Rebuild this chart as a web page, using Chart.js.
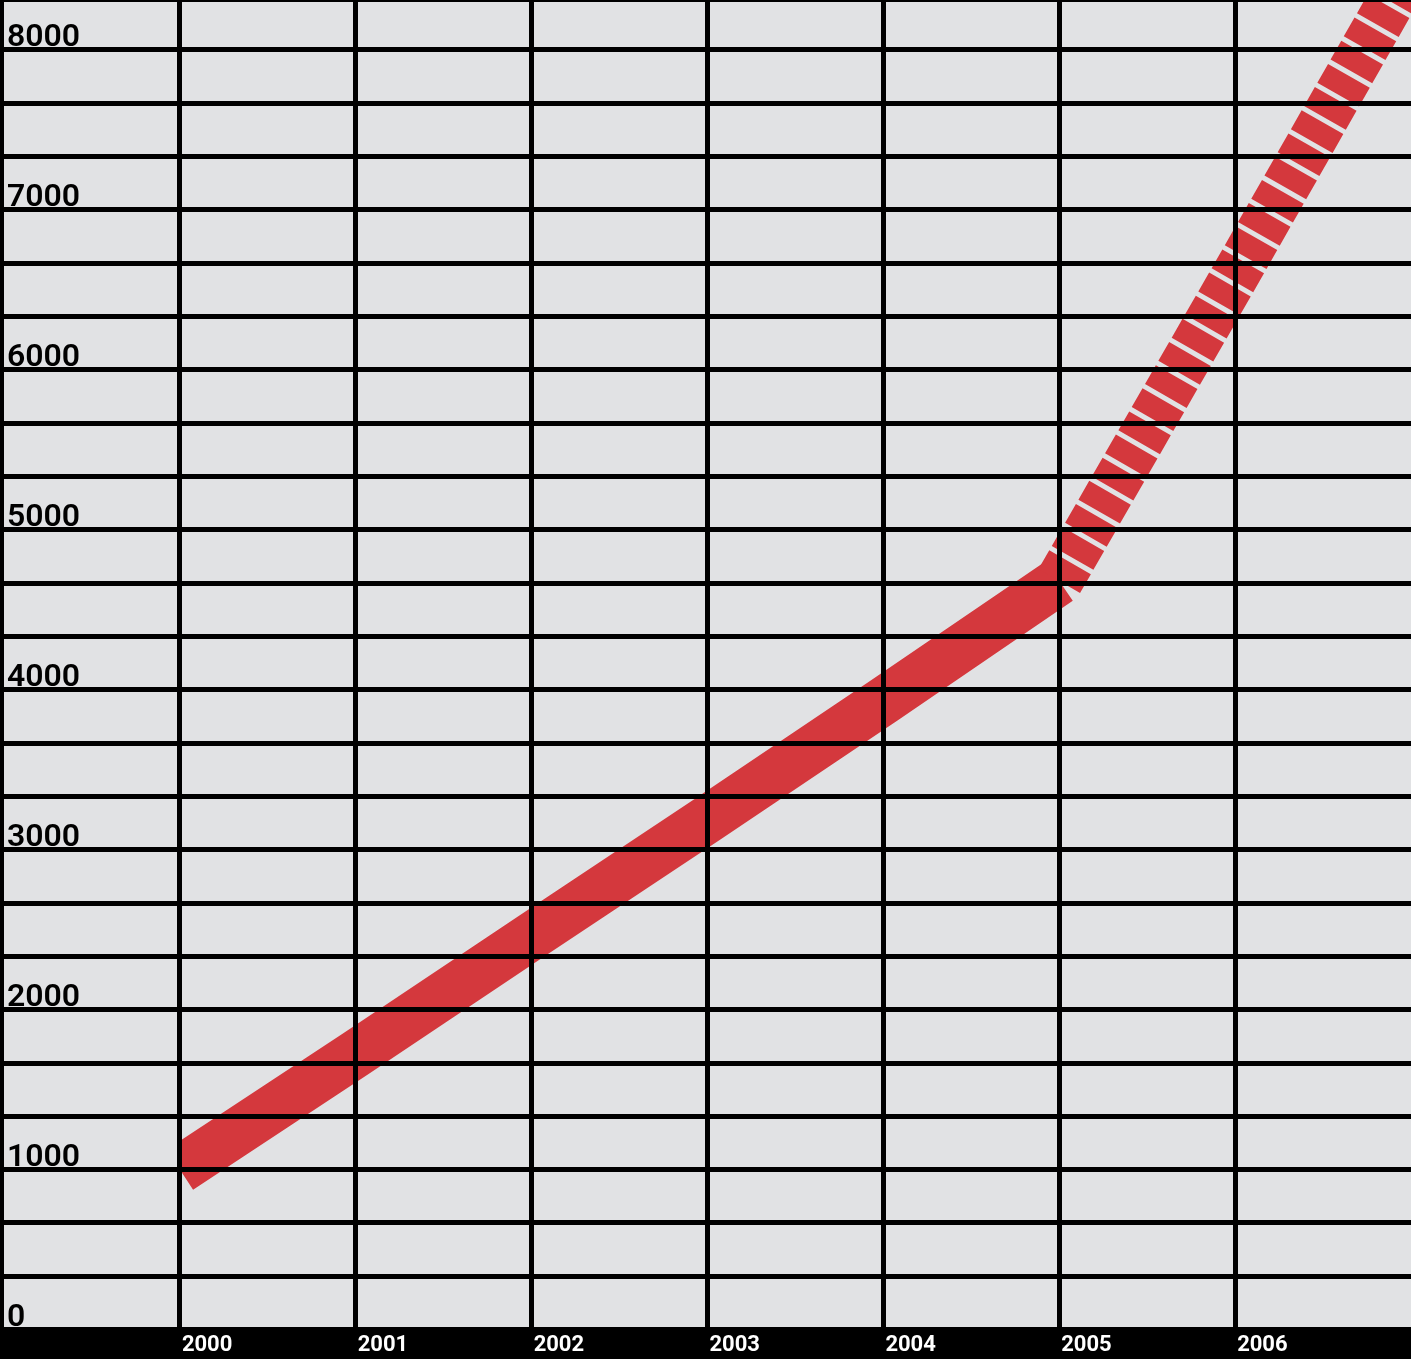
<!DOCTYPE html>
<html>
<head>
<meta charset="utf-8">
<script src="https://cdn.jsdelivr.net/npm/chart.js@4.4.1/dist/chart.umd.min.js"></script>
<style>
  html, body { margin: 0; padding: 0; background: #000; }
  #wrap { width: 1411px; height: 1359px; }
</style>
</head>
<body>
<div id="wrap"><canvas id="chart" width="1411" height="1359"></canvas></div>
<script>
// years on the x axis and the value read for each one
const years = [2000, 2001, 2002, 2003, 2004, 2005, 2006, 2007];
const values = [1000, 1725, 2460, 3190, 3930, 4680, 6590, 8520];
// from this point on the line is drawn hatched (projection)
const dashedFrom = 5;
// axis labels
const xTickLabels = [2000, 2001, 2002, 2003, 2004, 2005, 2006];
const yTickLabels = [0, 1000, 2000, 3000, 4000, 5000, 6000, 7000, 8000];

// horizontal rules every third of a thousand
const yGrid = [];
for (let k = 0; k <= 24; k++) {
    yGrid.push(k * 1000 / 3);
}

// grey plot area, the black page shows round it
const plotBackground = {
    id: 'plotBackground',
    beforeDraw(chart) {
        const { ctx, chartArea: a } = chart;
        ctx.save();
        ctx.fillStyle = '#e1e2e4';
        ctx.fillRect(a.left, a.top, a.right - a.left, a.bottom - a.top);
        ctx.restore();
    }
};

// the line is cut straight at the first year
const cutAtFirstYear = {
    id: 'cutAtFirstYear',
    beforeDatasetsDraw(chart) {
        const { ctx, chartArea: a, scales } = chart;
        const x0 = scales.x.getPixelForValue(years[0]);
        ctx.save();
        ctx.beginPath();
        ctx.rect(x0, 0, chart.width - x0, a.bottom);
        ctx.clip();
    },
    afterDatasetsDraw(chart) {
        chart.ctx.restore();
    }
};

var ctx = document.getElementById('chart').getContext('2d');

var chart = new Chart(ctx, {
    type: 'line',
    data: {
        datasets: [{
            data: years.map((yr, i) => ({ x: yr, y: values[i] })),
            borderColor: '#d4383d',
            borderWidth: 48,
            pointRadius: 0,
            tension: 0,
            fill: false,
            segment: {
                borderDash: c => c.p0DataIndex >= dashedFrom ? [21.7, 5] : undefined
            }
        }]
    },
    options: {
        responsive: false,
        animation: false,
        layout: {
            autoPadding: false,
            padding: { left: 1, top: 2, right: 0, bottom: 0 }
        },
        plugins: {
            legend: { display: false },
            tooltip: { enabled: false }
        },
        scales: {
            x: {
                type: 'linear',
                min: 1999,
                max: 2007,
                afterFit: s => { s.paddingLeft = 0; s.paddingRight = 0; s.height = 29.4; },
                grid: {
                    z: 1,
                    lineWidth: 5,
                    drawTicks: false,
                    color: c => (c.tick && (c.tick.value === 1999 || c.tick.value === 2007)) ? 'rgba(0,0,0,0)' : '#000'
                },
                border: { display: false },
                ticks: {
                    stepSize: 1,
                    align: 'start',
                    labelOffset: 2,
                    padding: 3,
                    maxRotation: 0,
                    autoSkip: false,
                    color: '#fff',
                    font: { family: 'Roboto', size: 22, weight: 'bold' },
                    callback: v => xTickLabels.includes(v) ? String(v) : ''
                }
            },
            y: {
                min: 0,
                max: 8300,
                afterBuildTicks: s => { s.ticks = yGrid.map(v => ({ value: v })); },
                afterFit: s => { s.paddingTop = 0; s.paddingBottom = 0; s.width = 3; },
                grid: {
                    z: 1,
                    lineWidth: 5,
                    drawTicks: false,
                    color: '#000'
                },
                border: { display: false },
                ticks: {
                    mirror: true,
                    padding: 3,
                    labelOffset: -12,
                    autoSkip: false,
                    color: '#000',
                    font: { family: 'Roboto', size: 32, weight: '600' },
                    callback: v => yTickLabels.includes(v) ? String(v) : ''
                }
            }
        }
    },
    plugins: [plotBackground, cutAtFirstYear]
});
</script>
</body>
</html>
